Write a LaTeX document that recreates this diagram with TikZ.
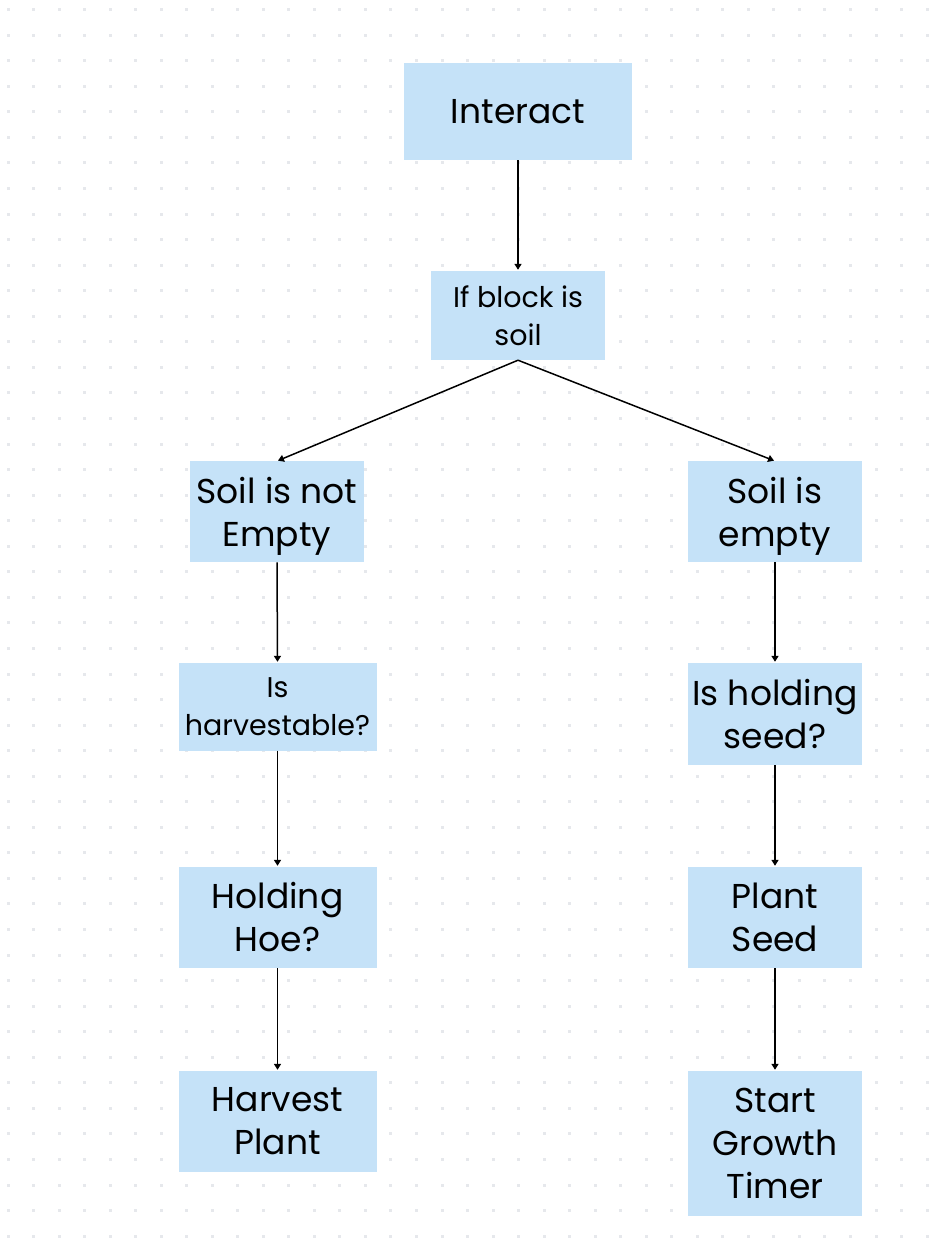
\documentclass[tikz,border=0pt]{standalone}
\usepackage{fontspec}
\setmainfont{Poppins}
\usetikzlibrary{arrows.meta}
\definecolor{boxblue}{RGB}{197,226,248}
\definecolor{dotgray}{RGB}{230,232,236}
\tikzset{
  box/.style={fill=boxblue, draw=none, align=center, inner sep=0pt},
  bigtext/.style={font=\fontsize{34.5}{43}\selectfont},
  smalltext/.style={font=\fontsize{28.5}{38}\selectfont},
  conn/.style={-{Triangle[length=6pt,width=7pt]}, line width=1.5pt, shorten >=1pt},
}
\begin{document}
\begin{tikzpicture}[x=1pt,y=-1pt]
\useasboundingbox (0,0) rectangle (934,1252);
\fill[white] (0,0) rectangle (934,1252);
\foreach \i in {0,...,36}{
  \foreach \j in {0,...,48}{
    \fill[dotgray] ({8+25.53*\i-1.5},{9.7+25.55*\j-1.5}) rectangle ++(3,3);
  }
}
\node[box,bigtext,minimum width=228pt,minimum height=97pt] (interact) at (518,111.5) {Interact};
\node[box,smalltext,minimum width=174pt,minimum height=89pt] (ifsoil) at (518,315.5) {If block is\\soil};
\node[box,bigtext,text depth=0pt,minimum width=174pt,minimum height=101pt] (notempty) at (277,511.75) {Soil is not\\Empty};
\node[box,bigtext,text depth=0pt,minimum width=174pt,minimum height=101pt] (empty) at (775,511.75) {Soil is\\empty};
\node[box,smalltext,minimum width=198pt,minimum height=87.5pt] (harvestable) at (277.5,706.75) {Is\\harvestable?};
\node[box,bigtext,minimum width=174pt,minimum height=102pt] (seed) at (775,714) {Is holding\\seed?};
\node[box,bigtext,minimum width=198pt,minimum height=101pt] (hoe) at (277.5,917.5) {Holding\\Hoe?};
\node[box,bigtext,minimum width=174pt,minimum height=101pt] (plant) at (775,917.5) {Plant\\Seed};
\node[box,bigtext,minimum width=198pt,minimum height=101pt] (harvest) at (277.5,1121.5) {Harvest\\Plant};
\node[box,bigtext,minimum width=174pt,minimum height=145pt] (timer) at (775,1143.5) {Start\\Growth\\Timer};
\draw[conn] (interact.south) -- (ifsoil.north);
\draw[conn] (ifsoil.south) -- (notempty.north);
\draw[conn] (ifsoil.south) -- (empty.north);
\draw[conn] (notempty.south) -- (harvestable.north);
\draw[conn] (harvestable.south) -- (hoe.north);
\draw[conn] (hoe.south) -- (harvest.north);
\draw[conn] (empty.south) -- (seed.north);
\draw[conn] (seed.south) -- (plant.north);
\draw[conn] (plant.south) -- (timer.north);
\end{tikzpicture}
\end{document}
